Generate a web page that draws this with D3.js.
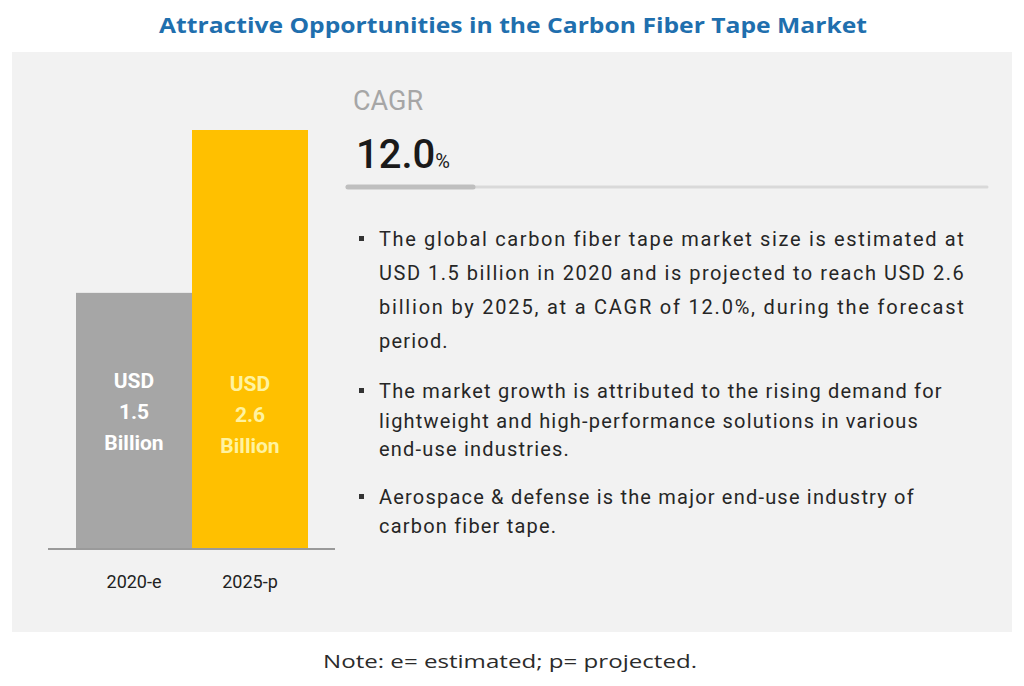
<!DOCTYPE html>
<html>
<head>
<meta charset="utf-8">
<script src="https://cdn.jsdelivr.net/npm/d3@7"></script>
<style>
  body { margin: 0; background: #ffffff; }
  svg { display: block; }
</style>
</head>
<body>
<div id="chart"></div>
<script>
// Chart Data
const categories = ["2020-e", "2025-p"];
const values = [1.5, 2.6];
const barLabels = [["USD", "1.5", "Billion"], ["USD", "2.6", "Billion"]];
const cagrValue = "12.0";
const bullets = [
  ["The global carbon fiber tape market size is estimated at",
   "USD 1.5 billion in 2020 and is projected to reach USD 2.6",
   "billion by 2025, at a CAGR of 12.0%, during the forecast",
   "period."],
  ["The market growth is attributed to the rising demand for",
   "lightweight and high-performance  solutions in various",
   "end-use industries."],
  ["Aerospace & defense is the major end-use industry of",
   "carbon fiber tape."]
];

// Define the Size of the SVG Container
const width = 1024;
const height = 686;
const narrow = "'Roboto', sans-serif";

const svg = d3.select("#chart")
  .append("svg")
  .attr("width", width)
  .attr("height", height);

// Title
svg.append("text")
  .attr("x", 513)
  .attr("y", 33)
  .attr("text-anchor", "middle")
  .attr("font-family", "'Open Sans', sans-serif")
  .attr("font-weight", "bold")
  .attr("font-size", 22)
  .attr("fill", "#1f6fae")
  .attr("textLength", 708)
  .attr("lengthAdjust", "spacingAndGlyphs")
  .text("Attractive Opportunities in the Carbon Fiber Tape Market");

// Gray Panel
svg.append("rect")
  .attr("x", 12).attr("y", 52)
  .attr("width", 1000).attr("height", 580)
  .attr("fill", "#f2f2f2");

// Scales
const xScale = d3.scaleBand()
  .domain(categories)
  .range([76, 308])
  .paddingInner(0);

const yScale = d3.scaleLinear()
  .domain([-0.23, 2.6])
  .range([549, 130]);

const colors = ["#a6a6a6", "#ffc000"];
const labelColors = ["#ffffff", "#fff3a0"];

// Bars
svg.selectAll("rect.bar")
  .data(values)
  .enter()
  .append("rect")
  .attr("class", "bar")
  .attr("x", (d, i) => xScale(categories[i]))
  .attr("y", d => yScale(d))
  .attr("width", xScale.bandwidth())
  .attr("height", d => yScale(-0.23) - yScale(d))
  .attr("fill", (d, i) => colors[i]);

// Baseline
svg.append("line")
  .attr("x1", 48).attr("x2", 335)
  .attr("y1", 549).attr("y2", 549)
  .attr("stroke", "#9a9a9a")
  .attr("stroke-width", 2);

// Labels Inside Bars
barLabels.forEach(function(lines, i) {
  const cx = xScale(categories[i]) + xScale.bandwidth() / 2;
  const t = svg.append("text")
    .attr("text-anchor", "middle")
    .attr("font-family", narrow)
    .attr("font-weight", "bold")
    .attr("font-size", 21)
    .attr("fill", labelColors[i]);
  lines.forEach(function(s, j) {
    t.append("tspan")
      .attr("x", cx)
      .attr("y", 388 + i * 3 + j * 31)
      .text(s);
  });
});

// Category Axis Labels
const xAxis = svg.append("g")
  .attr("transform", "translate(0,549)")
  .call(d3.axisBottom(xScale).tickSize(0).tickPadding(26));
xAxis.select(".domain").remove();
xAxis.selectAll("text")
  .attr("font-family", "'Roboto', sans-serif")
  .attr("font-size", 18)
  .attr("fill", "#222");

// CAGR Block
svg.append("text")
  .attr("x", 353).attr("y", 110)
  .attr("font-family", narrow)
  .attr("font-size", 27)
  .attr("fill", "#a6a6a6")
  .text("CAGR");

const cagr = svg.append("text")
  .attr("x", 356).attr("y", 168)
  .attr("font-family", narrow)
  .attr("font-weight", 500)
  .attr("font-size", 40)
  .attr("fill", "#1a1a1a")
  .text(cagrValue);
cagr.append("tspan")
  .attr("font-size", 20)
  .attr("font-weight", 400)
  .text("%");

// Divider Line
svg.append("line")
  .attr("x1", 347).attr("x2", 987)
  .attr("y1", 187).attr("y2", 187)
  .attr("stroke", "#d9d9d9")
  .attr("stroke-width", 3)
  .attr("stroke-linecap", "round");
svg.append("line")
  .attr("x1", 348).attr("x2", 473)
  .attr("y1", 187).attr("y2", 187)
  .attr("stroke", "#bfbfbf")
  .attr("stroke-width", 5)
  .attr("stroke-linecap", "round");

// Bullet Text
const lineY = [[246, 280, 314, 348], [398, 428, 456], [504, 533]];
const justifyWidth = [586, 0, 0];
bullets.forEach(function(lines, i) {
  svg.append("rect")
    .attr("x", 359).attr("y", lineY[i][0] - 10)
    .attr("width", 5).attr("height", 5)
    .attr("fill", "#333");
  lines.forEach(function(s, j) {
    const t = svg.append("text")
      .attr("x", 379).attr("y", lineY[i][j])
      .attr("font-family", narrow)
      .attr("font-size", 20)
      .attr("letter-spacing", 1.2)
      .attr("fill", "#262626")
      .text(s);
    if (justifyWidth[i] && j < lines.length - 1) {
      t.attr("textLength", justifyWidth[i]).attr("lengthAdjust", "spacing");
    }
  });
});

// Footnote
svg.append("text")
  .attr("x", 510).attr("y", 668)
  .attr("text-anchor", "middle")
  .attr("font-family", "'Open Sans', sans-serif")
  .attr("font-size", 19)
  .attr("fill", "#2b2b2b")
  .attr("textLength", 374)
  .attr("lengthAdjust", "spacingAndGlyphs")
  .text("Note: e= estimated; p= projected.");
</script>
</body>
</html>
